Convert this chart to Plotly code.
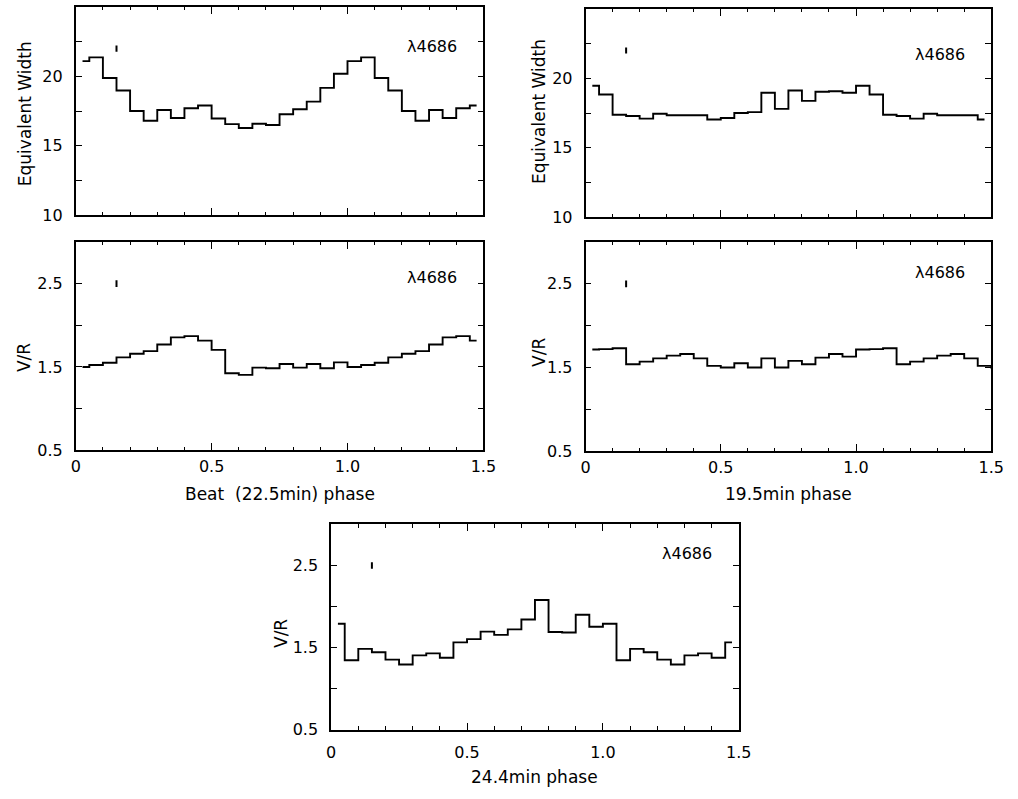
import plotly.graph_objects as go

# Phase-bin centres (20 bins per cycle)
bin_centres = [0.025, 0.075, 0.125, 0.175, 0.225, 0.275, 0.325, 0.375, 0.425, 0.475,
               0.525, 0.575, 0.625, 0.675, 0.725, 0.775, 0.825, 0.875, 0.925, 0.975]

# He II 4686 equivalent width folded on the beat (22.5 min) period
ew_beat = [21.1, 21.37, 19.88, 18.98, 17.51, 16.8, 17.58, 17.0, 17.7, 17.9,
           16.97, 16.56, 16.28, 16.59, 16.5, 17.27, 17.63, 18.18, 19.17, 20.19]
# V/R ratio folded on the beat period
vr_beat = [1.50, 1.524, 1.551, 1.615, 1.658, 1.69, 1.77, 1.855, 1.87, 1.816,
           1.705, 1.425, 1.405, 1.492, 1.484, 1.535, 1.492, 1.535, 1.484, 1.555]
# Equivalent width folded on the 19.5 min period
ew_195 = [19.47, 18.84, 17.38, 17.29, 17.1, 17.45, 17.34, 17.34, 17.34, 17.04,
          17.15, 17.5, 17.57, 18.96, 17.8, 19.12, 18.38, 19.03, 19.07, 18.96]
# V/R folded on the 19.5 min period
vr_195 = [1.715, 1.72, 1.73, 1.54, 1.571, 1.61, 1.642, 1.662, 1.61, 1.52,
          1.50, 1.551, 1.50, 1.61, 1.50, 1.579, 1.54, 1.618, 1.662, 1.63]
# V/R folded on the 24.4 min period
vr_244 = [1.79, 1.345, 1.484, 1.444, 1.353, 1.294, 1.405, 1.429, 1.377, 1.563,
          1.603, 1.694, 1.655, 1.722, 1.841, 2.079, 1.69, 1.683, 1.90, 1.754]

# Phase axis ticks
phase_ticks = [0, 0.5, 1.0, 1.5]
phase_ticktext = ["0", "0.5", "1.0", "1.5"]

# Typical error bars drawn in the upper-left of each panel
err_phase = 0.15
ew_err_level, ew_err = 22.0, 0.22
vr_err_level, vr_err = 2.5, 0.04

line_label = "λ4686"

W, H = 1018, 799


def xdom(left, right):
    return [left / W, right / W]


def ydom(top, bottom):
    return [1 - bottom / H, 1 - top / H]


def folded(values, nbins):
    """Repeat a one-cycle folded curve over 1.5 cycles."""
    ph = bin_centres + [c + 1.0 for c in bin_centres]
    va = values + values
    return ph[:nbins], va[:nbins]


fig = go.Figure()

# (axis suffix, x-domain px, y-domain px, values, bins shown, kind, x title)
panels = [
    ("", (72, 487), (7, 218), ew_beat, 30, "ew", None),
    ("2", (72, 487), (245, 456), vr_beat, 30, "vr", "Beat  (22.5min) phase"),
    ("3", (591, 1004), (9, 220), ew_195, 30, "ew", None),
    ("4", (591, 1004), (245, 457), vr_195, 31, "vr", "19.5min phase"),
    ("5", (332, 747), (531, 739), vr_244, 30, "vr", "24.4min phase"),
]

tick_font = dict(family="DejaVu Sans, Arial, sans-serif", size=16, color="black")
title_font = dict(family="DejaVu Sans, Arial, sans-serif", size=17, color="black")

for suf, (xl, xr), (yt, yb), vals, nb, kind, xtitle in panels:
    xa, ya = "x" + suf, "y" + suf
    ph, va = folded(vals, nb)
    fig.add_trace(go.Scatter(
        x=ph, y=va, mode="lines", line=dict(shape="hvh", color="black", width=1.9),
        xaxis=xa, yaxis=ya, showlegend=False, hoverinfo="skip"))
    lvl, err = (ew_err_level, ew_err) if kind == "ew" else (vr_err_level, vr_err)
    fig.add_trace(go.Scatter(
        x=[err_phase], y=[lvl], mode="markers", marker=dict(size=1, color="black"),
        error_y=dict(type="data", array=[err], width=0, thickness=2, color="black"),
        xaxis=xa, yaxis=ya, showlegend=False, hoverinfo="skip"))

    xkey = "xaxis" + suf
    ykey = "yaxis" + suf
    fig.layout[xkey] = dict(
        domain=xdom(xl, xr), anchor=ya, range=[0, 1.5],
        tickmode="array", tickvals=phase_ticks, ticktext=phase_ticktext,
        ticks="inside", ticklen=7, tickwidth=1.3, tickcolor="black",
        showline=True, linecolor="black", linewidth=1.6, mirror="allticks",
        showgrid=False, zeroline=False, showticklabels=xtitle is not None,
        tickfont=tick_font, ticklabelstandoff=(7 if suf == "5" else 1),
        minor=dict(dtick=0.1, tick0=0, ticks="inside", ticklen=3.5, tickwidth=1.1,
                   tickcolor="black", showgrid=False),
    )
    if kind == "ew":
        yrange, ydt, yt0, ymin = [10, 25], 5, 10, 2.5
        yfmt = "d"
    else:
        yrange, ydt, yt0, ymin = [0.5, 3.0], 1.0, 0.5, 0.5
        yfmt = ".1f"
    fig.layout[ykey] = dict(
        domain=ydom(yt, yb), anchor=xa, range=yrange, dtick=ydt, tick0=yt0,
        ticks="inside", ticklen=6, tickwidth=1.3, tickcolor="black",
        showline=True, linecolor="black", linewidth=1.6, mirror="allticks",
        showgrid=False, zeroline=False, tickfont=tick_font, tickformat=yfmt,
        ticklabelstandoff=8,
        minor=dict(dtick=ymin, ticks="inside", ticklen=6, tickwidth=1.3,
                   tickcolor="black", showgrid=False),
    )

    # Spectral line label inside the panel
    lab_x = 1.31
    lab_y = {"": 22.15, "2": 2.57, "3": 21.7, "4": 2.63, "5": 2.64}[suf]
    fig.add_annotation(x=lab_x, y=lab_y, xref=xa, yref=ya, text=line_label,
                       showarrow=False, font=tick_font, xanchor="center", yanchor="middle")

    # Y-axis title
    ytitle = "Equivalent Width" if kind == "ew" else "V/R"
    ytx = {"": 20, "2": 20, "3": 543, "4": 543, "5": 281}[suf]
    yty = {"": 115, "2": 362, "3": 113, "4": 357, "5": 642}[suf]
    fig.add_annotation(x=ytx / W, y=1 - yty / H, xref="paper", yref="paper",
                       text=ytitle, textangle=-90, showarrow=False, font=title_font,
                       xanchor="center", yanchor="middle")

    # X-axis title
    if xtitle is not None:
        xty = 787 if suf == "5" else 500
        fig.add_annotation(x=(xl + xr) / 2 / W, y=1 - xty / H, xref="paper", yref="paper",
                           text=xtitle, showarrow=False, font=title_font,
                           xanchor="center", yanchor="middle")

fig.update_layout(
    width=W, height=H, margin=dict(l=0, r=0, t=0, b=0),
    paper_bgcolor="white", plot_bgcolor="white",
    font=tick_font,
)

# Pin the figure to the page corner so it fills the window exactly
page_fix = ("document.body.style.margin='0';"
            "document.body.style.padding='0';"
            "document.body.style.overflow='hidden';")
fig.write_html("out.html", post_script=page_fix)
